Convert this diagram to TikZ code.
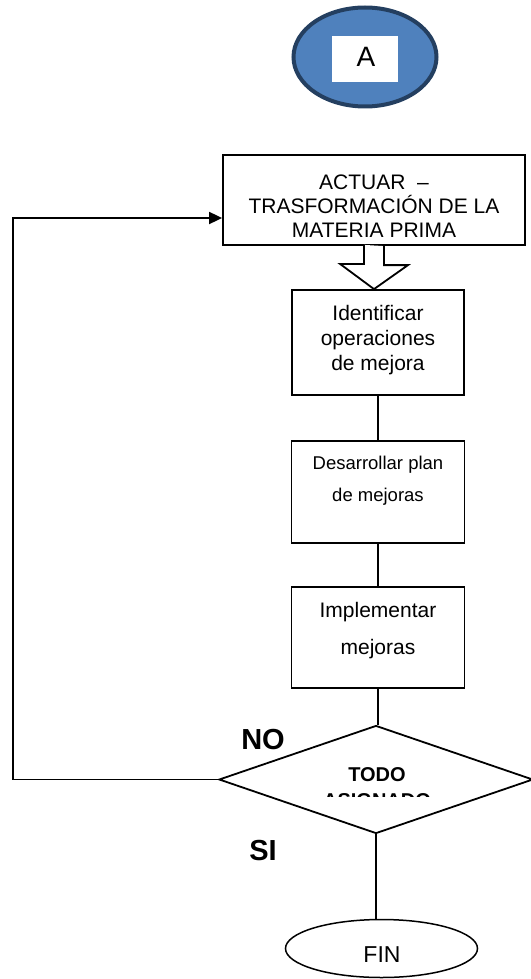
\documentclass[tikz,border=0pt]{standalone}
\usepackage{fontspec}
\setmainfont{Liberation Sans}
\usetikzlibrary{shapes.geometric,arrows.meta,calc}
\definecolor{ablue}{HTML}{4F81BD}
\definecolor{aedge}{HTML}{243F60}
\begin{document}
\begin{tikzpicture}[x=1pt,y=-1pt,
  box/.style={draw,line width=1.8pt,inner sep=0pt},
  conn/.style={line width=1.8pt},
  txt/.style={align=center,inner sep=0pt},
  lbl/.style={inner sep=0pt,font=\bfseries\fontsize{29}{34}\selectfont},
]
\useasboundingbox (0,0) rectangle (530,979);
% connector A
\node[ellipse,draw=aedge,line width=4pt,fill=ablue,minimum width=143pt,minimum height=99pt] (a) at (365,57) {};
\node[fill=white,minimum width=66pt,minimum height=46pt,inner sep=0pt] (abox) at (365,59) {};
\node[inner sep=0pt,font=\fontsize{28}{34}\selectfont] (atext) at (366,56.5) {A};
% ACTUAR box
\node[box,minimum width=302pt,minimum height=90pt] (actuar) at (374,200) {};
\node[txt,font=\fontsize{21}{24}\selectfont] (actuart) at (374,206.5) {ACTUAR\ \ –\\TRASFORMACIÓN DE LA\\MATERIA PRIMA};
% process boxes
\node[box,minimum width=172pt,minimum height=105pt] (iden) at (378,342.5) {};
\node[txt,font=\fontsize{21}{25}\selectfont] (ident) at (378,340) {Identificar\\operaciones\\de mejora};
\node[box,minimum width=173pt,minimum height=102pt] (desa) at (378,492) {};
\node[txt,font=\fontsize{18.5}{32}\selectfont] (desat) at (378,481) {Desarrollar plan\\de mejoras};
\node[box,minimum width=173pt,minimum height=101pt] (impl) at (378,637.5) {};
\node[txt,font=\fontsize{21}{37}\selectfont] (implt) at (378,631) {Implementar\\mejoras};
% hollow block arrow
\draw[line width=1.8pt,fill=white] ($(actuar.south)+(-10,-1)$) -- ++(0,19) -- ++(-24,0)
  -- (actuar.south |- iden.north) -- ++(34,-24) -- ++(-24,0) -- ++(0,-19);
% decision
\node[diamond,draw,line width=1.8pt,minimum width=314pt,minimum height=108pt,inner sep=0pt] (dec) at (376,779.5) {};
\node[inner sep=0pt,font=\bfseries\fontsize{20}{24}\selectfont] (todo) at (377,774.5) {TODO};
\begin{scope}
  \clip (250,780) rectangle (500,796);
  \node[inner sep=0pt,font=\bfseries\fontsize{20}{24}\selectfont] (asig) at (377,800.5) {ASIGNADO};
\end{scope}
% end
\node[ellipse,draw,line width=1.5pt,minimum width=192pt,minimum height=58pt,inner sep=0pt] (fin) at (381.5,948.5) {};
\node[inner sep=0pt,font=\fontsize{23}{28}\selectfont] (fint) at (382,955) {FIN};
% labels
\node[lbl] (no) at (263,740) {NO};
\node[lbl] (si) at (263,851) {SI};
% connectors
\draw[conn] (iden.south) -- (desa.north);
\draw[conn] (desa.south) -- (impl.south |- desa.south) -- (impl.north);
\draw[conn] (impl.south) -- (impl.south |- dec.north);
\draw[line width=1.5pt] (dec.south) -- (dec.south |- fin.north);
\coordinate (fb) at (13,218);
\draw[conn,-{Triangle[length=13pt,width=12pt]}] (dec.west) -| (fb) -- (actuar.west |- fb);
\end{tikzpicture}
\end{document}
